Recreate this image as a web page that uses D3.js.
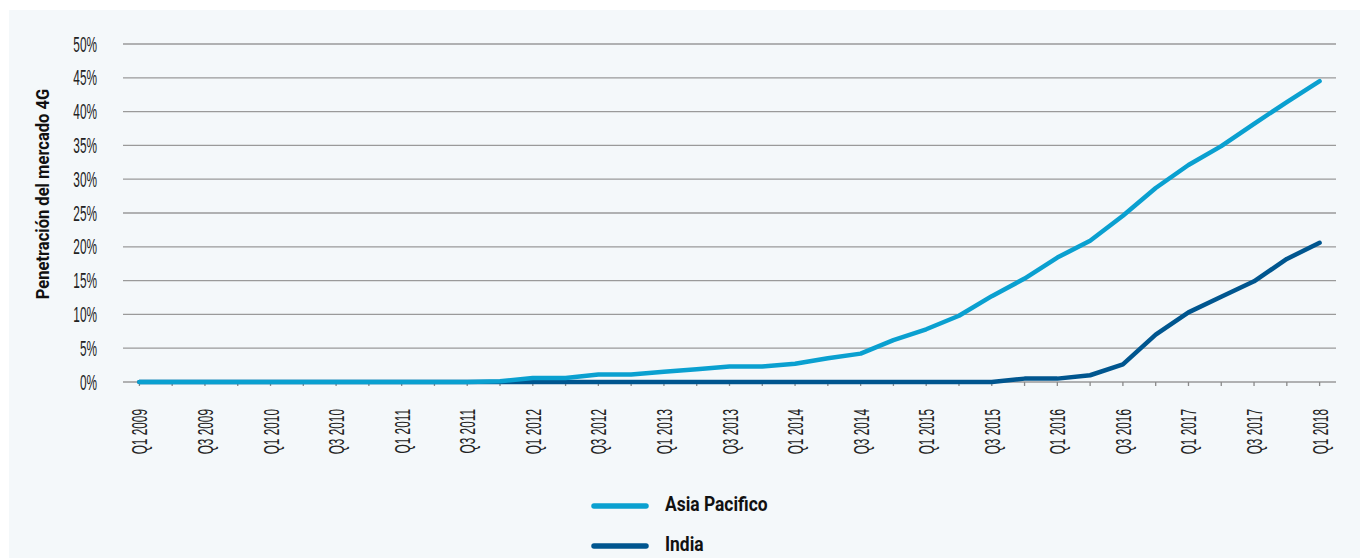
<!DOCTYPE html>
<html><head><meta charset="utf-8">
<script src="https://cdn.jsdelivr.net/npm/d3@7"></script>
<style>
html,body{margin:0;padding:0;background:#fff;}
svg{display:block;}
</style></head>
<body>
<svg id="c" width="1360" height="558"></svg>
<script>
const quarters = [
"Q1 2009","Q2 2009","Q3 2009","Q4 2009",
"Q1 2010","Q2 2010","Q3 2010","Q4 2010",
"Q1 2011","Q2 2011","Q3 2011","Q4 2011",
"Q1 2012","Q2 2012","Q3 2012","Q4 2012",
"Q1 2013","Q2 2013","Q3 2013","Q4 2013",
"Q1 2014","Q2 2014","Q3 2014","Q4 2014",
"Q1 2015","Q2 2015","Q3 2015","Q4 2015",
"Q1 2016","Q2 2016","Q3 2016","Q4 2016",
"Q1 2017","Q2 2017","Q3 2017","Q4 2017",
"Q1 2018"];
const tickLabels = quarters.filter((q,i)=>i%2===0);
const asiaPacific = [0,0,0,0, 0,0,0,0, 0,0,0,0.1, 0.6,0.6,1.1,1.1, 1.5,1.9,2.3,2.3, 2.7,3.5,4.2,6.2, 7.8,9.8,12.7,15.3, 18.4,20.9,24.6,28.7, 32.1,34.9,38.2,41.4, 44.5];
const india = [0,0,0,0, 0,0,0,0, 0,0,0,0, 0,0,0,0, 0,0,0,0, 0,0,0,0, 0,0,0,0.5, 0.5,1.0,2.6,7.0, 10.3,12.6,14.9,18.2, 20.6];
const yTicks = [0,5,10,15,20,25,30,35,40,45,50];
const seriesNames = ["Asia Pacifico","India"];
const colors = ["#0aa0d0","#00568f"];

const svg = d3.select("#c");
svg.append("rect").attr("x",9).attr("y",10).attr("width",1351).attr("height",548).attr("fill","#f4f8fa");

const pL=123, pR=1336, pT=44, pB=382;
const x = d3.scalePoint().domain(quarters).range([pL,pR]).padding(0.5);
const y = d3.scaleLinear().domain([0,50]).range([pB,pT]);

const condensed = "'Liberation Sans Narrow','Arial Narrow','Liberation Sans',sans-serif";

// grid
const gy = svg.append("g");
gy.selectAll("line").data(yTicks).join("line")
  .attr("x1",pL).attr("x2",pR)
  .attr("y1",d=>y(d)).attr("y2",d=>y(d))
  .attr("stroke","#9a9a9a").attr("stroke-width",1.3);
gy.selectAll("text").data(yTicks).join("text")
  .attr("transform",d=>`translate(97,${y(d)+7.5}) scale(0.55,1)`)
  .attr("text-anchor","end")
  .attr("font-family",condensed).attr("font-size",21.5).attr("fill","#222")
  .text(d=>d+"%");

// x ticks
svg.append("g").selectAll("line").data(quarters).join("line")
  .attr("x1",d=>x(d)).attr("x2",d=>x(d))
  .attr("y1",pB).attr("y2",pB+4)
  .attr("stroke","#8a8a8a").attr("stroke-width",1.3);
svg.append("g").selectAll("text").data(tickLabels).join("text")
  .attr("transform",d=>`translate(${x(d)+8},409) rotate(-90) scale(0.55,1)`)
  .attr("text-anchor","end")
  .attr("font-family",condensed).attr("font-size",21.5).attr("fill","#222")
  .text(d=>d);

// axis title
svg.append("text")
  .attr("transform","translate(49,194) rotate(-90) scale(0.92,1)")
  .attr("text-anchor","middle")
  .attr("font-family","Roboto, 'Noto Sans', sans-serif").attr("font-weight","bold")
  .attr("font-size",18).attr("fill","#111")
  .text("Penetración del mercado 4G");

// lines
const line = d3.line().x((d,i)=>x(quarters[i])).y(d=>y(d));
[india, asiaPacific].forEach((s,k)=>{
  const ci = k===0?1:0;
  svg.append("path").datum(s).attr("d",line)
    .attr("fill","none").attr("stroke",colors[ci])
    .attr("stroke-width",4.5).attr("stroke-linejoin","round").attr("stroke-linecap","round");
});

// legend
const lg = svg.append("g");
seriesNames.forEach((n,i)=>{
  const yy = 506 + i*40;
  lg.append("line").attr("x1",594).attr("x2",646).attr("y1",yy).attr("y2",yy)
    .attr("stroke",colors[i]).attr("stroke-width",5.5).attr("stroke-linecap","round");
  lg.append("text").attr("transform",`translate(665,${yy+5}) scale(0.85,1)`)
    .attr("font-family","Roboto, 'Noto Sans', sans-serif").attr("font-weight","bold")
    .attr("font-size",20.5).attr("fill","#111").text(n);
});
</script>
</body></html>
